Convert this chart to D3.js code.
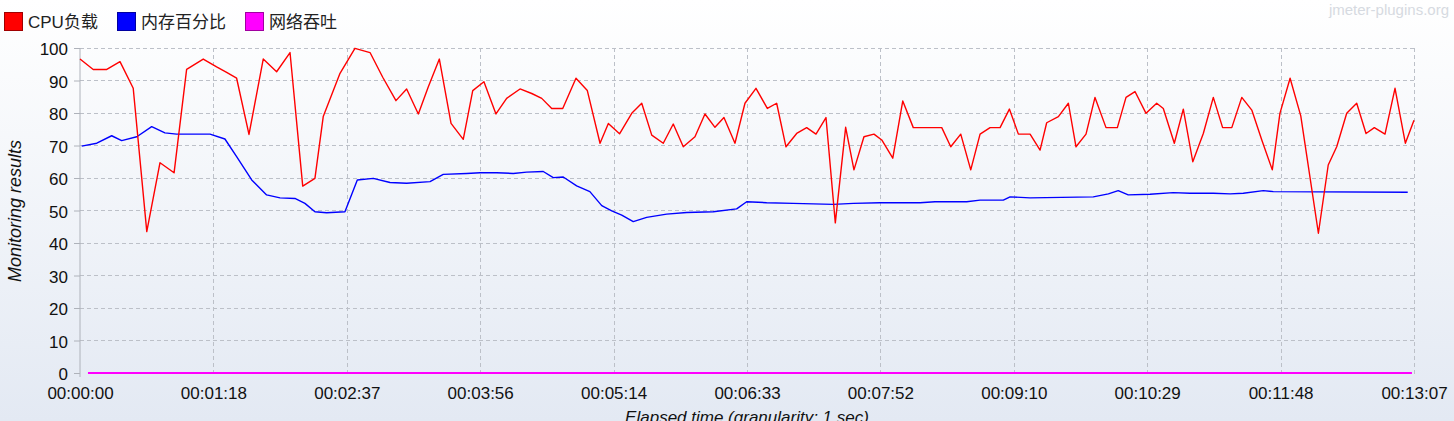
<!DOCTYPE html>
<html><head><meta charset="utf-8">
<script src="https://cdn.jsdelivr.net/npm/d3@7"></script>
<style>html,body{margin:0;padding:0;background:#fff;}svg{display:block;}</style>
</head><body>
<svg id="chart" width="1454" height="421"></svg>
<script>
// ---- data ----
const seriesNames = ["CPU负载", "内存百分比", "网络吞吐"];
const seriesColors = ["#ff0000", "#0000ff", "#ff00ff"];

const cpuTime = [0,7.8,15.8,23.6,31.4,39.4,47.2,55.5,62.9,72.7,80.6,86.5,92.4,99.7,108.1,116.0,123.9,131.4,138.6,143.5,153.4,162.2,171.1,178.6,186.4,192.7,199.6,205.5,212.0,218.9,226.1,231.7,238.3,245.4,251.7,259.6,266.5,272.4,278.3,284.8,292.6,299.3,306.8,311.7,318.3,325.5,331.4,337.3,344.1,350.0,355.9,362.8,368.7,374.6,379.9,386.4,392.3,398.8,405.5,411.0,416.5,422.8,428.7,434.2,440.1,445.6,451.7,456.6,462.5,468.4,473.0,479.5,485.4,491.6,499.7,508.4,513.7,519.6,525.5,531.0,536.9,542.8,548.3,553.6,560.5,566.4,570.3,577.2,583.1,587.6,593.5,598.8,605.3,612.0,617.1,622.4,628.9,635.2,639.1,645.6,650.9,656.5,662.7,668.6,674.1,679.5,685.4,691.3,697.2,703.4,707.9,713.9,720.2,730.6,736.4,741.4,747.3,753.2,758.7,763.6,769.9,775.8,781.9,787];
const cpuLoad = [96.6,93.4,93.4,95.8,87.6,43.5,64.7,61.6,93.4,96.6,94.2,92.5,90.7,73.4,96.6,92.7,98.6,57.5,59.9,78.9,92.2,99.9,98.6,91,83.8,87.4,79.7,88.1,96.6,76.8,71.9,86.9,89.6,79.7,84.5,87.4,86,84.5,81.4,81.4,90.7,86.9,70.7,76.8,73.6,79.9,83,73.2,70.7,76.6,69.6,72.7,79.7,75.6,78.6,70.7,83,87.6,81.4,83,69.6,73.7,75.5,73.5,78.6,46.2,75.6,62.5,72.7,73.5,71.7,66.1,83.7,75.5,75.5,75.5,69.6,73.5,62.5,73.5,75.5,75.5,81.2,73.5,73.5,68.6,77,78.9,83,69.6,73.5,84.8,75.5,75.5,84.8,86.6,79.9,83,81.4,70.7,81.2,65,73.7,84.8,75.5,75.5,84.8,80.9,71.7,62.5,79.9,90.7,79.1,43,64,69.6,79.9,83,73.7,75.5,73.5,87.6,70.7,77.8];

const memTime = [1.0,9.9,18.7,24.6,33.5,42.3,50.1,57.0,76.7,85.5,92.4,101.3,110.1,118.0,126.8,132.7,138.6,145.5,156.3,163.6,173.0,182.9,192.7,206.5,214.3,228.1,236.0,245.8,255.6,263.5,273.3,279.2,285.1,293.0,300.8,307.8,313.7,319.6,326.4,334.3,346.1,357.9,373.6,387.4,393.3,405.1,420.8,444.4,456.2,471.9,495.6,504.4,523.1,531.0,544.7,548.7,560.5,597.8,606.7,612.5,618.4,631.3,644.9,654.8,668.6,678.5,686.3,698.1,704.0,783.3];
const memPercent = [69.8,70.7,73,71.5,72.7,75.8,73.9,73.5,73.5,72,66.6,59.4,54.8,53.9,53.7,52.2,49.6,49.3,49.6,59.4,59.9,58.6,58.4,58.9,61.1,61.4,61.6,61.6,61.4,61.8,62,60.1,60.3,57.6,55.8,51.5,49.9,48.6,46.6,47.9,48.9,49.4,49.6,50.5,52.7,52.4,52.2,51.9,52.2,52.4,52.4,52.7,52.7,53.2,53.2,54.2,53.9,54.2,55.1,56.1,54.8,55,55.5,55.3,55.3,55.1,55.3,56.1,55.8,55.6];

const netTime = [4.7, 785.8];
const netThroughput = [0, 0];

const xTickSeconds = [0,78.7,157.4,236.1,314.8,393.5,472.2,550.9,629.6,708.3,787];
const xTickLabels = ["00:00:00","00:01:18","00:02:37","00:03:56","00:05:14","00:06:33","00:07:52","00:09:10","00:10:29","00:11:48","00:13:07"];
const yTicks = [0,10,20,30,40,50,60,70,80,90,100];

// ---- drawing ----
const svg = d3.select("#chart");
const W = 1454, H = 421;
const m = {left: 80, right: 1414, top: 48, bottom: 373};
const FONT = "'Liberation Sans', Arial, 'Noto Sans CJK SC', sans-serif";

const defs = svg.append("defs");
const grad = defs.append("linearGradient").attr("id","bg").attr("x1",0).attr("y1",0).attr("x2",0).attr("y2",1);
grad.append("stop").attr("offset","0%").attr("stop-color","#ffffff");
grad.append("stop").attr("offset","100%").attr("stop-color","#e3e9f3");
svg.append("rect").attr("width",W).attr("height",H).attr("fill","url(#bg)");

const x = d3.scaleLinear().domain([0,787]).range([m.left, m.right]);
const y = d3.scaleLinear().domain([0,100]).range([m.bottom, m.top]);

const gridColor = "#bcc0c8";
svg.append("g").selectAll("line").data(yTicks.filter(d=>d>0)).join("line")
  .attr("x1", m.left).attr("x2", m.right)
  .attr("y1", d=>y(d)).attr("y2", d=>y(d))
  .attr("stroke", gridColor).attr("stroke-width",1).attr("stroke-dasharray","4,3")
  .attr("shape-rendering","crispEdges");
svg.append("g").selectAll("line").data(xTickSeconds.slice(1)).join("line")
  .attr("x1", d=>Math.round(x(d))).attr("x2", d=>Math.round(x(d)))
  .attr("y1", m.top).attr("y2", m.bottom+4)
  .attr("stroke", gridColor).attr("stroke-width",1).attr("stroke-dasharray","4,3")
  .attr("shape-rendering","crispEdges");

// y axis
const yAxis = d3.axisLeft(y).tickValues(yTicks).tickSize(6).tickPadding(6).tickFormat(d3.format("d"));
const gy = svg.append("g").attr("transform",`translate(${m.left},0)`).call(yAxis);
gy.select(".domain").attr("stroke","#aeb2ba").attr("d",`M0,${m.top}V${m.bottom+4}`);
gy.selectAll(".tick line").attr("stroke","#aeb2ba");
gy.selectAll(".tick text").attr("font-family",FONT).attr("font-size",17).attr("fill","#111").attr("dy","0.4em");

// x axis
const xAxis = d3.axisBottom(x).tickValues(xTickSeconds).tickSize(0).tickPadding(14)
  .tickFormat((d,i)=>xTickLabels[i]);
const gx = svg.append("g").attr("transform",`translate(0,${m.bottom})`).call(xAxis);
gx.select(".domain").remove();
gx.selectAll(".tick text").attr("font-family",FONT).attr("font-size",17).attr("fill","#111");

// lines
const line = d3.line().x(d=>x(d[0])).y(d=>y(d[1]));
const series = [
  {t: netTime, v: netThroughput, c: seriesColors[2], w: 2},
  {t: memTime, v: memPercent, c: seriesColors[1], w: 1.4},
  {t: cpuTime, v: cpuLoad, c: seriesColors[0], w: 1.4}
];
series.forEach(s=>{
  svg.append("path").datum(s.t.map((t,i)=>[t,s.v[i]]))
    .attr("d", line).attr("fill","none").attr("stroke", s.c).attr("stroke-width", s.w)
    .attr("stroke-linejoin","round");
});

// axis titles
svg.append("text").attr("transform","translate(21,211) rotate(-90)")
  .attr("text-anchor","middle").attr("font-family",FONT).attr("font-size",18)
  .attr("font-style","italic").attr("fill","#111").text("Monitoring results");
svg.append("text").attr("x",(m.left+m.right)/2).attr("y",423)
  .attr("text-anchor","middle").attr("font-family",FONT).attr("font-size",17)
  .attr("font-style","italic").attr("fill","#111").text("Elapsed time (granularity: 1 sec)");

// legend
const legendX = [4, 117, 245];
const legendDark = ["#a00000","#0000a0","#a000a0"];
const lg = svg.append("g");
seriesNames.forEach((n,i)=>{
  lg.append("rect").attr("x",legendX[i]+0.5).attr("y",12.5).attr("width",18).attr("height",18)
    .attr("fill",seriesColors[i]).attr("stroke",legendDark[i]).attr("stroke-width",1);
  lg.append("text").attr("x",legendX[i]+24).attr("y",28).attr("font-family",FONT)
    .attr("font-size",17).attr("fill","#222").text(n);
});

// watermark
svg.append("text").attr("x",1449).attr("y",15).attr("text-anchor","end")
  .attr("font-family",FONT).attr("font-size",15).attr("fill","#d6dae1").text("jmeter-plugins.org");
</script>
</body></html>
